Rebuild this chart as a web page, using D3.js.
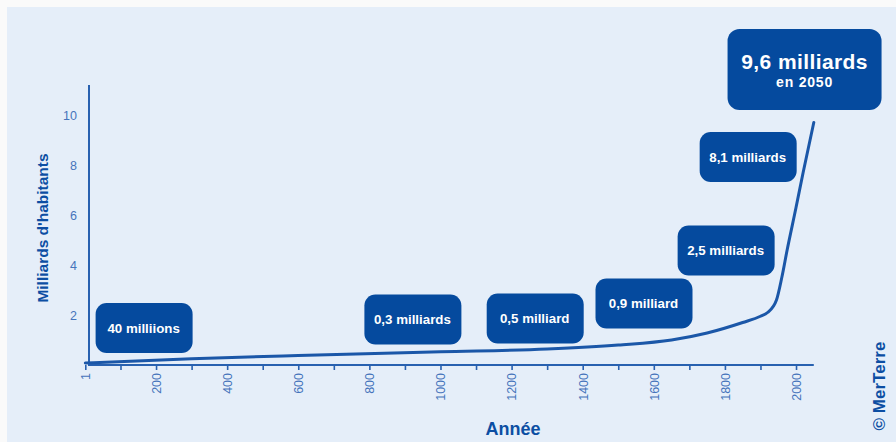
<!DOCTYPE html>
<html>
<head>
<meta charset="utf-8">
<script src="https://cdn.jsdelivr.net/npm/d3@7"></script>
<style>
  body { margin: 0; background: #fafafa; }
  svg { display: block; font-family: "Liberation Sans", Arial, sans-serif; }
</style>
</head>
<body>
<div id="chart"></div>
<script>
// population mondiale (milliards) par année
const years = [1, 300, 600, 1000, 1300, 1500, 1650, 1750, 1850, 1900, 1920, 1945, 1960, 1975, 2000, 2020, 2050];
const population = [0.08, 0.25, 0.38, 0.53, 0.64, 0.8, 1.0, 1.28, 1.7, 1.95, 2.1, 2.6, 3.5, 4.6, 6.3, 7.7, 9.7];

const xTicks = [1, 100, 200, 300, 400, 500, 600, 700, 800, 900, 1000, 1100, 1200, 1300, 1400, 1500, 1600, 1700, 1800, 1900, 2000];
const xLabelled = [1, 200, 400, 600, 800, 1000, 1200, 1400, 1600, 1800, 2000];
const yTicks = [2, 4, 6, 8, 10];

// annotations: texte, année et valeur du centre de la bulle
const noteText = ['40 milliions', '0,3 milliards', '0,5 milliard', '0,9 milliard', '2,5 milliards', '8,1 milliards'];
const noteYear = [165, 921, 1265, 1571, 1802, 1864];
const noteValue = [1.48, 1.82, 1.86, 2.46, 4.58, 8.32];
const finalText = ['9,6 milliards', 'en 2050'];
const finalYear = 2024;
const finalValue = 11.82;

const W = 896, H = 442;
const axisX = 89;

const svg = d3.select('#chart').append('svg')
  .attr('width', W).attr('height', H);

svg.append('rect')
  .attr('x', 7).attr('y', 7)
  .attr('width', W - 7).attr('height', H - 7)
  .attr('fill', '#e5eef9');

const x = d3.scaleLinear().domain([1, 2050]).range([85.3, 813.8]);
const y = d3.scaleLinear().domain([0, 11.2]).range([365, 85]);

const axisColor = '#2861b0';
const labelColor = '#4574bb';

// axe x
const gx = svg.append('g')
  .attr('transform', `translate(0,${y(0)})`)
  .call(d3.axisBottom(x).tickValues(xTicks).tickSize(5)
    .tickFormat(d => xLabelled.includes(d) ? String(d) : ''));
gx.select('.domain').remove();
gx.selectAll('.tick line').attr('stroke', axisColor).attr('stroke-width', 1.6);
gx.selectAll('.tick text')
  .attr('fill', labelColor)
  .style('font-size', '12.5px')
  .attr('transform', 'rotate(-90)')
  .attr('text-anchor', 'end')
  .attr('x', -8)
  .attr('y', 0)
  .attr('dy', '0.35em');

svg.append('line')
  .attr('x1', axisX).attr('x2', x(2050))
  .attr('y1', y(0)).attr('y2', y(0))
  .attr('stroke', axisColor).attr('stroke-width', 2);

// axe y
const gy = svg.append('g')
  .attr('transform', `translate(${axisX},0)`)
  .call(d3.axisLeft(y).tickValues(yTicks).tickSize(0).tickPadding(12));
gy.select('.domain').remove();
gy.selectAll('.tick text')
  .attr('fill', labelColor)
  .style('font-size', '12.5px');

svg.append('line')
  .attr('x1', axisX).attr('x2', axisX)
  .attr('y1', y(11.2)).attr('y2', y(0) + 1)
  .attr('stroke', axisColor).attr('stroke-width', 2);

// courbe
const line = d3.line()
  .x((d, i) => x(years[i]))
  .y(d => y(d))
  .curve(d3.curveMonotoneX);

svg.append('path')
  .datum(population)
  .attr('d', line)
  .attr('fill', 'none')
  .attr('stroke', '#1b57a8')
  .attr('stroke-width', 3)
  .attr('stroke-linecap', 'round');

// bulles
const boxColor = '#054a9e';
const notes = svg.append('g').selectAll('g')
  .data(noteText)
  .enter().append('g')
  .attr('transform', (d, i) => `translate(${x(noteYear[i])},${y(noteValue[i])})`);

notes.append('rect')
  .attr('x', -48).attr('y', -25)
  .attr('width', 97).attr('height', 50)
  .attr('rx', 11)
  .attr('fill', boxColor);

notes.append('text')
  .attr('text-anchor', 'middle')
  .attr('dy', '0.35em')
  .attr('fill', '#fff')
  .style('font-size', '13.3px')
  .style('font-weight', 'bold')
  .text(d => d);

const fin = svg.append('g')
  .attr('transform', `translate(${x(finalYear)},${y(finalValue)})`);
fin.append('rect')
  .attr('x', -77).attr('y', -40.5)
  .attr('width', 154).attr('height', 81)
  .attr('rx', 12)
  .attr('fill', boxColor);
fin.append('text')
  .attr('text-anchor', 'middle')
  .attr('y', -0.5)
  .attr('fill', '#fff')
  .style('font-size', '21px')
  .style('letter-spacing', '0.4px')
  .style('font-weight', 'bold')
  .text(finalText[0]);
fin.append('text')
  .attr('text-anchor', 'middle')
  .attr('y', 17.5)
  .attr('fill', '#fff')
  .style('font-size', '14px')
  .style('letter-spacing', '0.8px')
  .style('font-weight', 'bold')
  .text(finalText[1]);

// titres des axes
svg.append('text')
  .attr('transform', 'translate(48,228) rotate(-90)')
  .attr('text-anchor', 'middle')
  .attr('fill', '#0c4ea3')
  .style('font-size', '15.5px')
  .style('font-weight', 'bold')
  .text("Milliards d'habitants");

svg.append('text')
  .attr('x', 513).attr('y', 435)
  .attr('text-anchor', 'middle')
  .attr('fill', '#0c4ea3')
  .style('font-size', '18px')
  .style('font-weight', 'bold')
  .text('Année');

svg.append('text')
  .attr('transform', 'translate(885,386) rotate(-90)')
  .attr('text-anchor', 'middle')
  .attr('fill', '#0c4ea3')
  .style('font-size', '17px')
  .style('font-weight', 'bold')
  .text('© MerTerre');
</script>
</body>
</html>
